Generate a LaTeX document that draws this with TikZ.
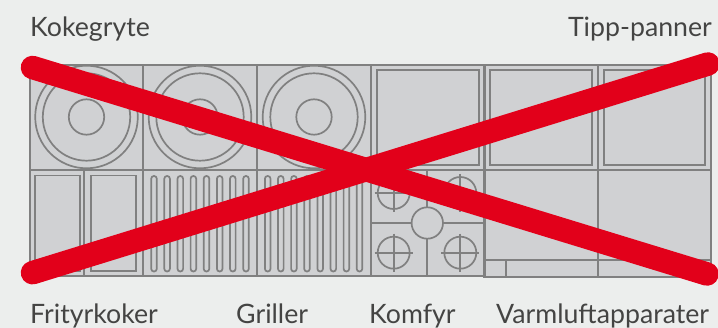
\documentclass[tikz,border=0pt]{standalone}
\usepackage{fontspec}
\setmainfont{Lato}
\definecolor{bgc}{HTML}{ECEEED}
\definecolor{cellc}{HTML}{D0D1D3}
\definecolor{linec}{HTML}{808080}
\definecolor{redc}{HTML}{E2001A}
\definecolor{textc}{HTML}{444443}
\tikzset{
 frameline/.style={draw=linec,line width=2.2pt},
 thinline/.style={draw=linec,line width=1.7pt},
 crossbar/.style={draw=redc,line width=23.5pt,line cap=round},
 lbl/.style={inner sep=0pt,text=textc,font=\fontsize{26.7}{31}\selectfont,anchor=base west},
 lblr/.style={lbl,anchor=base east}
}
\begin{document}
\begin{tikzpicture}[x=1pt,y=-1pt]
\useasboundingbox (0,0) rectangle (718,328);
\fill[bgc] (0,0) rectangle (718,328);
\fill[cellc] (30,65) rectangle (711,277);
% frame
\draw[frameline] (30,65) -- (711,65) -- (711,277) -- (484.5,277) -- (484.5,276) -- (30,276) -- cycle;
\draw[frameline] (30,169.7) -- (711,169.7);
\foreach \x in {143,257,371,484.5,598}{\draw[frameline] (\x,65) -- (\x,276.5);}
% cooking pots
\foreach \x in {86.5,200,314}{
 \draw[thinline] (\x,117) circle[radius=51.3];
 \draw[thinline] (\x,117) circle[radius=43.7];
 \draw[thinline] (\x,117) circle[radius=17.7];
}
% tilting pans
\draw[thinline] (376.7,70) rectangle (479,165);
\draw[thinline] (490,70) rectangle (591.7,165);
\draw[thinline] (603.7,70) rectangle (705.3,165);
% fryers
\draw[frameline] (84,170) -- (84,276);
\draw[thinline] (35,175.5) rectangle (80,271);
\draw[thinline] (90.7,175.5) rectangle (135.7,271);
% grills
\foreach \x in {154,167.1,180.3,193.4,206.5,219.7,232.8,246,267.7,280.8,293.9,307,320.2,333.3,346.4,359.5}{
 \draw[thinline,rounded corners=2.7pt] (\x-2.8,176) rectangle (\x+2.8,271.5);
}
% range
\draw[thinline] (427.3,170) -- (427.3,276);
\draw[thinline] (371,223) -- (484.5,223);
\foreach \x/\y in {393.7/193,460.3/193,393.7/252.7,460.3/252.7}{
 \draw[thinline] (\x,\y) circle[radius=16];
 \draw[thinline] (\x-19,\y) -- (\x+19,\y);
 \draw[thinline] (\x,\y-19) -- (\x,\y+19);
}
\draw[thinline,fill=cellc] (427.3,223) circle[radius=15.7];
% ovens
\draw[thinline] (484.5,260.3) -- (711,260.3);
\draw[thinline] (506,260.3) -- (506,276);
% crosses
\coordinate (a1) at (32.5,67.5);
\coordinate (a2) at (707,274);
\coordinate (b1) at (32.5,272.7);
\coordinate (b2) at (708,64);
\draw[crossbar] (a1) -- (a2);
\draw[crossbar] (b1) -- (b2);
% labels
\node[lbl] (kokegryte) at (30,36.7) {Kokegryte};
\node[lblr] (tipp) at (712,36.7) {Tipp-panner};
\node[lbl] (fritur) at (30,323.3) {Frityrkoker};
\node[lbl] (griller) at (236,323.3) {Griller};
\node[lbl] (komfyr) at (369,323.3) {Komfyr};
\node[lbl] (varm) at (496,323.3) {Varmluftapparater};
\end{tikzpicture}
\end{document}
